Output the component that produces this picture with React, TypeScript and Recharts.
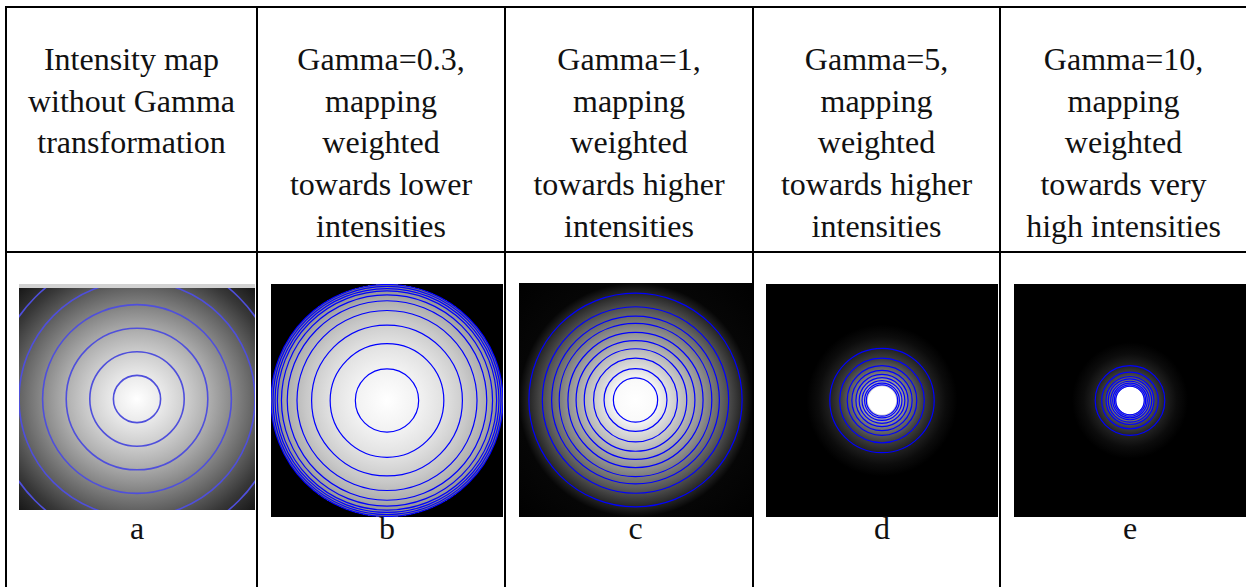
import React from 'react';
import { ScatterChart, Scatter, XAxis, YAxis, ZAxis, ReferenceArea } from 'recharts';

// header text of each column, one entry per line
const headerLines = [
  ['Intensity map', 'without Gamma', 'transformation'],
  ['Gamma=0.3,', 'mapping', 'weighted', 'towards lower', 'intensities'],
  ['Gamma=1,', 'mapping', 'weighted', 'towards higher', 'intensities'],
  ['Gamma=5,', 'mapping', 'weighted', 'towards higher', 'intensities'],
  ['Gamma=10,', 'mapping', 'weighted', 'towards very', 'high intensities'],
];
const panelLabels = ['a', 'b', 'c', 'd', 'e'];

// contour radii, as a fraction of the half width of each map
const radiiA = [0.2, 0.4, 0.6, 0.8, 1.0, 1.22];
const radiiB = [0.273, 0.49, 0.65, 0.776, 0.86, 0.91, 0.945, 0.965, 0.983, 1.0];
const radiiC = [0.19, 0.27, 0.36, 0.44, 0.51, 0.58, 0.655, 0.72, 0.8, 0.915];
const radiiD = [0.135, 0.15, 0.172, 0.197, 0.225, 0.26, 0.3, 0.365, 0.45];
const radiiE = [0.123, 0.135, 0.149, 0.166, 0.187, 0.207, 0.244, 0.3];

// grey level against radius: [radius, colour]
const shadeA: [number, string][] = [
  [0, '#ffffff'], [0.2, '#ebebeb'], [0.4, '#d0d0d0'], [0.6, '#b0b0b0'],
  [0.8, '#8a8a8a'], [1.0, '#626262'], [1.2, '#383838'], [1.5, '#0a0a0a'],
];
const shadeB: [number, string][] = [
  [0, '#ffffff'], [0.3, '#f0f0f0'], [0.5, '#e0e0e0'], [0.7, '#c8c8c8'],
  [0.85, '#b0b0b0'], [0.97, '#8c8c8c'], [1.0, '#6a6a6a'], [1.0, '#000000'], [1.5, '#000000'],
];
const shadeC: [number, string][] = [
  [0, '#ffffff'], [0.17, '#fafafa'], [0.3, '#d8d8d8'], [0.45, '#b4b4b4'],
  [0.6, '#8c8c8c'], [0.75, '#5e5e5e'], [0.9, '#2a2a2a'], [1.0, '#060606'], [1.5, '#000000'],
];
const shadeD: [number, string][] = [
  [0, '#ffffff'], [0.118, '#ffffff'], [0.125, '#d0d0d0'], [0.17, '#a0a0a0'],
  [0.25, '#707070'], [0.35, '#404040'], [0.45, '#202020'], [0.55, '#0c0c0c'], [0.65, '#000000'],
];
const shadeE: [number, string][] = [
  [0, '#ffffff'], [0.115, '#ffffff'], [0.12, '#b0b0b0'], [0.17, '#707070'],
  [0.22, '#454545'], [0.3, '#222222'], [0.4, '#0c0c0c'], [0.5, '#000000'],
];

const font = "'Liberation Serif', 'Times New Roman', serif";
const colLines = [5, 256, 504, 752, 999, 1246];
const REACH = 1.5;

const panels = [
  { id: 'a', radii: radiiA, shade: shadeA, x: 19, y: 288, w: 236, h: 222, stroke: '#4f4fdc', sw: 1.6 },
  { id: 'b', radii: radiiB, shade: shadeB, x: 271, y: 284, w: 232, h: 233, stroke: '#0000ff', sw: 1.2 },
  { id: 'c', radii: radiiC, shade: shadeC, x: 519, y: 283, w: 233, h: 234, stroke: '#0000ff', sw: 1.2 },
  { id: 'd', radii: radiiD, shade: shadeD, x: 766, y: 284, w: 232, h: 233, stroke: '#0000ff', sw: 1.2 },
  { id: 'e', radii: radiiE, shade: shadeE, x: 1014, y: 284, w: 232, h: 233, stroke: '#0000ff', sw: 1.2 },
];

function ContourMap({ id, radii, shade, w, h, stroke, sw }: any) {
  const half = w / 2;
  const data = radii.map((r: number) => ({ x: 0, y: 0, z: r * r }));
  return (
    <ScatterChart width={w} height={h} margin={{ top: 0, right: 0, bottom: 0, left: 0 }}>
      <defs>
        <radialGradient id={`shade-${id}`} cx="50%" cy="50%" r={`${REACH * 50}%`}>
          {shade.map(([r, c]: [number, string], i: number) => (
            <stop key={i} offset={`${(r / REACH) * 100}%`} stopColor={c} />
          ))}
        </radialGradient>
      </defs>
      <XAxis type="number" dataKey="x" domain={[-1, 1]} hide />
      <YAxis type="number" dataKey="y" domain={[-1, 1]} hide />
      <ZAxis type="number" dataKey="z" domain={[0, 4]} range={[0, 4 * Math.PI * half * half]} />
      <ReferenceArea x1={-1} x2={1} y1={-1} y2={1} fill={`url(#shade-${id})`} fillOpacity={1} stroke="none" />
      <Scatter data={data} fill="none" stroke={stroke} strokeWidth={sw} isAnimationActive={false} />
    </ScatterChart>
  );
}

export default function App() {
  const textStyle: React.CSSProperties = {
    position: 'absolute',
    fontFamily: font,
    fontSize: 32,
    lineHeight: '41.7px',
    color: '#111',
    textAlign: 'center',
    whiteSpace: 'nowrap',
  };
  return (
    <div style={{ position: 'absolute', left: 0, top: 0, width: 1246, height: 587, overflow: 'hidden', background: '#fff' }}>
      {/* table rules */}
      <div style={{ position: 'absolute', left: 5, top: 6, width: 1245, height: 2, background: '#000' }} />
      <div style={{ position: 'absolute', left: 5, top: 251, width: 1245, height: 2, background: '#000' }} />
      {colLines.slice(0, 5).map((x) => (
        <div key={x} style={{ position: 'absolute', left: x, top: 6, width: 2, height: 590, background: '#000' }} />
      ))}

      {headerLines.map((lines, i) => {
        const left = colLines[i] + 2;
        const width = colLines[i + 1] - colLines[i] - 2;
        return (
          <div key={i} style={{ ...textStyle, left, width, top: 39 }}>
            {lines.map((l, j) => (
              <div key={j}>{l}</div>
            ))}
          </div>
        );
      })}

      <div style={{ position: 'absolute', left: 19, top: 284, width: 236, height: 4, background: '#d2d2d2' }} />
      {panels.map((p, i) => (
        <React.Fragment key={p.id}>
          <div style={{ position: 'absolute', left: p.x, top: p.y }}>
            <ContourMap {...p} />
          </div>
          <div style={{ ...textStyle, left: p.x, width: p.w, top: 507.5 }}>{panelLabels[i]}</div>
        </React.Fragment>
      ))}
    </div>
  );
}
